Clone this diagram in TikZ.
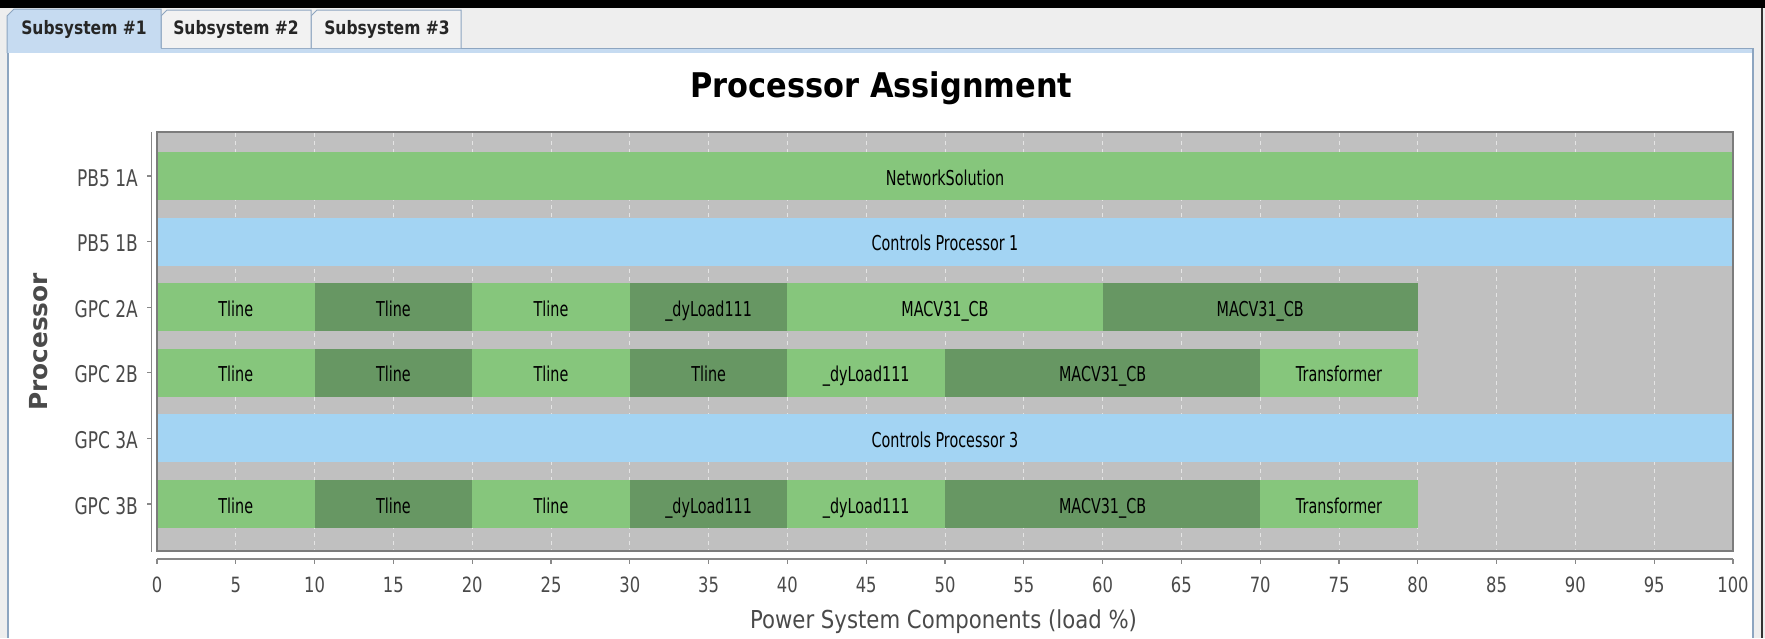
\documentclass[tikz,border=0pt]{standalone}
\usepackage{fontspec}
\setmainfont{DejaVu Sans}
% condensed faces for the chart texts
\newfontfamily\barfont[FakeStretch=0.70]{DejaVu Sans}
\newfontfamily\tickfont[FakeStretch=0.78]{DejaVu Sans}
\newfontfamily\ylabfont[FakeStretch=0.74]{DejaVu Sans}
\newfontfamily\axtitlefont[FakeStretch=0.86]{DejaVu Sans}
\newfontfamily\titlefont[FakeStretch=0.895]{DejaVu Sans Bold}
\newfontfamily\tabfont[FakeStretch=0.84]{DejaVu Sans Bold}
\newfontfamily\vlabfont{DejaVu Sans Bold}

\definecolor{lightgreen}{HTML}{86C67C}
\definecolor{darkgreen}{HTML}{679763}
\definecolor{procblue}{HTML}{A3D4F3}
\definecolor{plotgray}{HTML}{C0C0C0}
\definecolor{gridwhite}{HTML}{E4E4E4}
\definecolor{tabblue}{HTML}{C6DBF1}
\definecolor{tabedge}{HTML}{8DA5C0}
\definecolor{tabgray}{HTML}{EEEEEE}
\definecolor{tabface}{HTML}{F2F2F2}
\definecolor{axisgray}{HTML}{888888}
\definecolor{framegray}{HTML}{7C7C7C}
\definecolor{labelgray}{HTML}{4A4A4A}

\tikzset{
  seg/.style={rectangle, inner sep=0pt, outer sep=0pt, minimum height=48pt,
    text height=18pt, text depth=0pt, text=black,
    font=\barfont\fontsize{20.5}{24}\selectfont},
  ticklab/.style={inner sep=0pt, text=labelgray, anchor=base,
    font=\tickfont\fontsize{21}{24}\selectfont},
  ylab/.style={inner sep=0pt, text=labelgray, anchor=base east,
    font=\ylabfont\fontsize{23}{26}\selectfont},
  tablab/.style={inner sep=0pt, text=black!85, anchor=base,
    font=\tabfont\fontsize{18.5}{21}\selectfont},
  axisline/.style={draw=axisgray, line width=1.2pt},
  gridline/.style={draw=gridwhite, line width=1pt, dash pattern=on 4pt off 4pt},
  frameline/.style={draw=framegray, line width=1.5pt},
  tabshape/.style={draw=tabedge, line width=1pt},
}

% one bar segment: name, row, start %, end %, colour, text
\newcommand\segment[6]{%
  \node[seg, fill=#5, minimum width={(#4-#3)*15.76pt}] (#1)
    at ({(#3+#4)/2}, {176+65.6*#2}) {#6};}

\begin{document}
\begin{tikzpicture}[x=1pt, y=-1pt]
\useasboundingbox (0,0) rectangle (1765,638);

% window background, top bar and panel
\fill[tabgray] (0,0) rectangle (1765,638);
\fill[black] (0,0) rectangle (1765,8);
\fill[white] (8,53) rectangle (1753,638);
\draw[black!80, line width=2pt] (1762,8) -- (1762,638);

% tab strip
\fill[tabblue] (7,48) rectangle (1754,53);
\draw[tabedge, line width=1pt] (161,48) -- (1754,48);
\draw[tabshape, fill=tabface] (311,48) -- (311,16) -- (317,10) -- (461,10) -- (461,48);
\draw[tabshape, fill=tabface] (161,48) -- (161,16) -- (167,10) -- (311,10) -- (311,48);
\draw[tabshape, fill=tabblue] (7,53) -- (7,16) -- (14,9) -- (161,9) -- (161,48);
\draw[tabedge, line width=1.5pt] (8,53) -- (8,638);
\draw[tabedge, line width=1.5pt] (1753,48) -- (1753,638);
\node[tablab] (tab1) at (84,34) {Subsystem \#1};
\node[tablab] (tab2) at (236,34) {Subsystem \#2};
\node[tablab] (tab3) at (387,34) {Subsystem \#3};

% title and axis titles
\node[inner sep=0pt, anchor=base, font=\titlefont\fontsize{34}{40}\selectfont]
  (title) at (881.5,97) {Processor Assignment};
\node[inner sep=0pt, anchor=base, text=labelgray,
  font=\axtitlefont\fontsize{24.7}{28}\selectfont]
  (xtitle) at (943.5,628) {Power System Components (load \%)};
\node[inner sep=0pt, rotate=90, text=labelgray,
  font=\vlabfont\fontsize{24.8}{28}\selectfont]
  (ytitle) at (38.5,342) {Processor};

% category axis
\draw[axisline] (151.5,132) -- (151.5,552);
\foreach \lab [count=\i from 0] in {PB5 1A, PB5 1B, GPC 2A, GPC 2B, GPC 3A, GPC 3B} {
  \draw[axisline] (147,{176+65.6*\i}) -- (151.5,{176+65.6*\i});
  \node[ylab] (ylab\i) at (138,{186+65.6*\i}) {\lab};
}

% plot area, in percent along x
\begin{scope}[shift={(157,0)}, x=15.76pt]
  \fill[plotgray] (0,132) rectangle (100,551);
  \foreach \p in {5,10,...,95}
    \draw[gridline] (\p,133) -- (\p,550);

  \segment{net}{0}{0}{100}{lightgreen}{NetworkSolution}
  \segment{cpa}{1}{0}{100}{procblue}{Controls Processor 1}

  \segment{a1}{2}{0}{10}{lightgreen}{Tline}
  \segment{a2}{2}{10}{20}{darkgreen}{Tline}
  \segment{a3}{2}{20}{30}{lightgreen}{Tline}
  \segment{a4}{2}{30}{40}{darkgreen}{\_dyLoad111}
  \segment{a5}{2}{40}{60}{lightgreen}{MACV31\_CB}
  \segment{a6}{2}{60}{80}{darkgreen}{MACV31\_CB}

  \segment{b1}{3}{0}{10}{lightgreen}{Tline}
  \segment{b2}{3}{10}{20}{darkgreen}{Tline}
  \segment{b3}{3}{20}{30}{lightgreen}{Tline}
  \segment{b4}{3}{30}{40}{darkgreen}{Tline}
  \segment{b5}{3}{40}{50}{lightgreen}{\_dyLoad111}
  \segment{b6}{3}{50}{70}{darkgreen}{MACV31\_CB}
  \segment{b7}{3}{70}{80}{lightgreen}{Transformer}

  \segment{cpb}{4}{0}{100}{procblue}{Controls Processor 3}

  \segment{c1}{5}{0}{10}{lightgreen}{Tline}
  \segment{c2}{5}{10}{20}{darkgreen}{Tline}
  \segment{c3}{5}{20}{30}{lightgreen}{Tline}
  \segment{c4}{5}{30}{40}{darkgreen}{\_dyLoad111}
  \segment{c5}{5}{40}{50}{lightgreen}{\_dyLoad111}
  \segment{c6}{5}{50}{70}{darkgreen}{MACV31\_CB}
  \segment{c7}{5}{70}{80}{lightgreen}{Transformer}

  \draw[frameline] (0,132) rectangle (100,551);

  % value axis
  \draw[axisline] (0,559) -- (100,559);
  \foreach \p in {0,5,...,100} {
    \draw[axisline] (\p,559) -- (\p,564);
    \node[ticklab] (xt\p) at (\p,592) {\p};
  }
\end{scope}
\end{tikzpicture}
\end{document}
